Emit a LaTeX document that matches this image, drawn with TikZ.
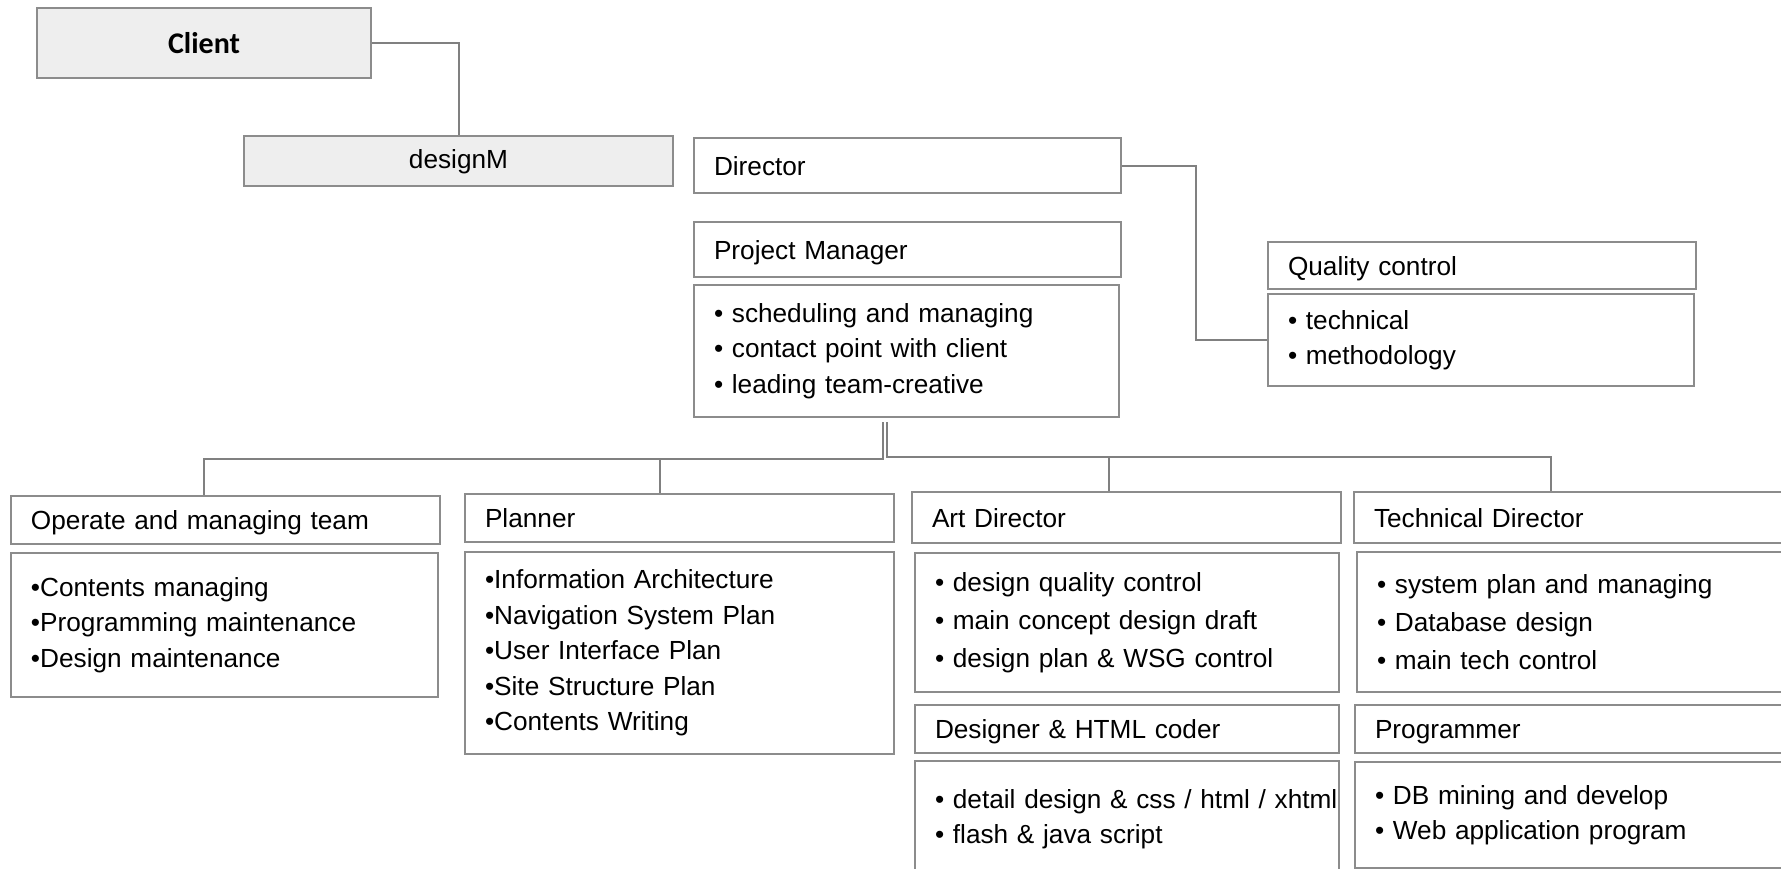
\documentclass[tikz,border=0pt]{standalone}
\usepackage{fontspec}
\setmainfont{Liberation Sans}
\newfontfamily\clientfont{Carlito}
\usetikzlibrary{calc}
\definecolor{boxgray}{HTML}{8C8C8C}
\definecolor{boxfill}{HTML}{EEEEEE}
\definecolor{linegray}{HTML}{808080}
\begin{document}
\begin{tikzpicture}[x=1pt,y=-1pt,
	box/.style={draw=boxgray, line width=1pt, anchor=north west, inner xsep=10pt, inner ysep=0pt, align=left, font=\fontsize{13.1}{17.75}\selectfont},
	head/.style={box, text height=9.5pt, text depth=0pt},
	wide/.style={font=\fontsize{13.1}{19}\selectfont},
	shade/.style={box, fill=boxfill, align=center},
	link/.style={draw=linegray, line width=1pt}]
	\useasboundingbox (0,0) rectangle (890.5,434);
		\node[shade, minimum width=167pt, minimum height=35pt, font=\clientfont\bfseries\fontsize{15}{18}\selectfont] (client) at (18,3.5) {Client};
		\node[shade, minimum width=214.5pt, minimum height=25pt, text height=9.5pt, text depth=2.5pt] (designm) at (121.5,67.5) {designM};
		\node[head, text width=193.5pt, minimum height=27.5pt] (director) at (346.5,68.5) {Director};
		\node[head, text width=193.5pt, minimum height=27.5pt] (pmhead) at (346.5,110.5) {Project Manager};
		\node[box, text width=192.5pt, minimum height=66pt] (pmbody) at (346.5,142) {• scheduling and managing\\ • contact point with client\\ • leading team-creative};
		\node[head, text width=194pt, minimum height=23.5pt] (qchead) at (633.5,120.5) {Quality control};
		\node[box, text width=193pt, minimum height=46pt] (qcbody) at (633.5,146.5) {• technical\\ • methodology};
	
		\node[head, text width=194.5pt, minimum height=24pt] (opshead) at (5,247.5) {Operate and managing team};
		\node[box, text width=193.5pt, minimum height=72pt] (opsbody) at (5,276) {•Contents managing\\ •Programming maintenance\\ •Design maintenance};
		\node[head, text width=194.5pt, minimum height=24pt] (plnhead) at (232,246.5) {Planner};
		\node[box, text width=194.5pt, minimum height=101pt] (plnbody) at (232,275.5) {•Information Architecture\\ •Navigation System Plan\\ •User Interface Plan\\ •Site Structure Plan\\ •Contents Writing};
		\node[head, text width=194.5pt, minimum height=25.5pt] (arthead) at (455.5,245.5) {Art Director};
		\node[box, wide, text width=192pt, minimum height=69.5pt] (artbody) at (457,276) {• design quality control\\ • main concept design draft\\ • design plan \& WSG control};
		\node[head, text width=192pt, minimum height=24pt] (dsghead) at (457,352) {Designer \& HTML coder};
		\node[box, text width=192pt, minimum height=73pt] (dsgbody) at (457,380) {\mbox{• detail design \& css / html / xhtml}\\ • flash \& java script\\ ~};
		\node[head, text width=200pt, minimum height=25.5pt] (techhead) at (676.5,245.5) {Technical Director};
		\node[box, wide, text width=200pt, minimum height=70pt] (techbody) at (678,275.5) {• system plan and managing\\ • Database design\\ • main tech control};
		\node[head, text width=200pt, minimum height=24pt] (proghead) at (677,352) {Programmer};
		\node[box, text width=200pt, minimum height=53pt] (progbody) at (677,380.5) {• DB mining and develop\\ • Web application program};
	
		\coordinate (busL) at (441.5,229.5);
		\coordinate (busR) at (443.5,228.5);
		\draw[link] (client.east) -| (designm.north);
		\draw[link] (director.east) -- ++(37,0) |- (qcbody.west);
		\draw[link, shorten <=2pt] (pmbody.south -| busL) -- (busL) -| ($(opshead.north)+(-11,0)$);
		\draw[link] ($(plnhead.north)+(-10,0)$) |- (busL);
		\draw[link, shorten <=2pt] (pmbody.south -| busR) -- (busR) -| ($(techhead.north)+(-11.5,0)$);
		\draw[link] ($(arthead.north)+(-9,0)$) |- (busR);
	\end{tikzpicture}
\end{document}
